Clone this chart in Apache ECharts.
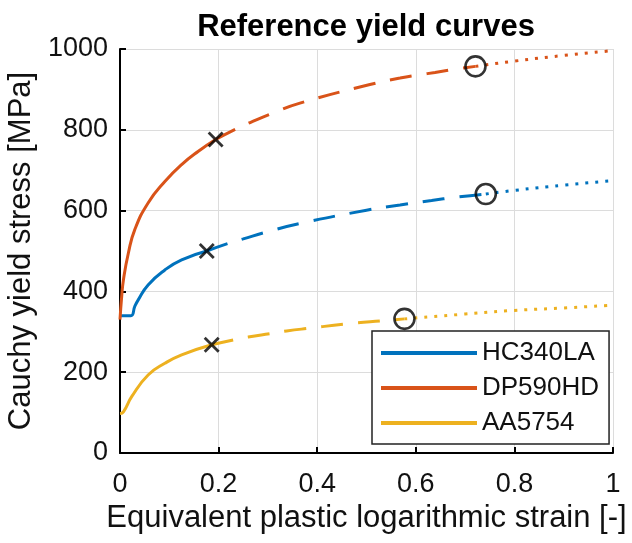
<!DOCTYPE html>
<html>
<head>
<meta charset="utf-8">
<script src="https://cdn.jsdelivr.net/npm/echarts@6/dist/echarts.min.js"></script>
<style>
html,body{margin:0;padding:0;background:#fff;}
#chart{width:632px;height:543px;}
</style>
</head>
<body>
<div id="chart"></div>
<script>
// ---- data ----
const materials = ['HC340LA', 'DP590HD', 'AA5754'];
const colors = ['#0072BD', '#D95319', '#EDB120'];
const xTicks = [0, 0.2, 0.4, 0.6, 0.8, 1];
const yTicks = [0, 200, 400, 600, 800, 1000];

// HC340LA
const hcSolidX = [0, 0.022, 0.030, 0.037, 0.057, 0.091, 0.125, 0.176];
const hcSolidY = [340, 340, 363, 379, 416, 453, 478, 500];
const hcDashX = [0.176, 0.220, 0.250, 0.297, 0.365, 0.500, 0.568, 0.632, 0.680, 0.742];
const hcDashY = [500, 519, 530, 547, 568, 601, 614, 625, 633, 641];
const hcDotX = [0.742, 0.8, 0.9, 1.0];
const hcDotY = [641, 650, 663, 674];

// DP590HD
const dpSolidX = [0, 0.0034, 0.007, 0.017, 0.030, 0.057, 0.091, 0.125, 0.159, 0.194];
const dpSolidY = [330, 387, 429, 495, 553, 619, 672, 714, 747, 776];
const dpDashX = [0.194, 0.237, 0.264, 0.311, 0.365, 0.507, 0.568, 0.608, 0.639, 0.686, 0.721];
const dpDashY = [776, 803, 818, 842, 866, 912, 928, 936, 942, 951, 957];
const dpDotX = [0.721, 0.8, 0.9, 1.0];
const dpDotY = [957, 970, 984, 996];

// AA5754
const aaSolidX = [0, 0.007, 0.024, 0.057, 0.091, 0.125, 0.186];
const aaSolidY = [98, 102, 140, 193, 222, 243, 268];
const aaDashX = [0.186, 0.230, 0.260, 0.308, 0.338, 0.385, 0.463, 0.541, 0.577];
const aaDashY = [268, 280, 287, 296, 302, 309, 320, 328, 332];
const aaDotX = [0.577, 0.7, 0.8, 0.9, 1.0];
const aaDotY = [332, 344, 353, 359, 366];

// markers: end of solid (x) and end of dashed (o)
const crossX = [0.176, 0.194, 0.186];
const crossY = [500, 776, 268];
const circleX = [0.742, 0.721, 0.577];
const circleY = [641, 957, 332];

// ---- build ----
const FONT = "'Liberation Sans', Arial, Helvetica, sans-serif";
const TXT = '#111';
function pairs(xs, ys) { return xs.map((x, i) => [x, ys[i]]); }

const segs = [
  [pairs(hcSolidX, hcSolidY), pairs(hcDashX, hcDashY), pairs(hcDotX, hcDotY)],
  [pairs(dpSolidX, dpSolidY), pairs(dpDashX, dpDashY), pairs(dpDotX, dpDotY)],
  [pairs(aaSolidX, aaSolidY), pairs(aaDashX, aaDashY), pairs(aaDotX, aaDotY)]
];

const series = [];
segs.forEach((s, i) => {
  const styles = ['solid', [22, 15], [3, 7]];
  s.forEach((d, k) => {
    series.push({
      type: 'line',
      name: k === 0 ? materials[i] : materials[i] + '_' + k,
      data: d,
      smooth: 0.5,
      symbol: 'none',
      showSymbol: false,
      silent: true,
      z: 3,
      color: colors[i],
      itemStyle: { color: colors[i] },
      lineStyle: { color: colors[i], width: 3, type: styles[k], cap: 'butt' },
      emphasis: { disabled: true }
    });
  });
});
series.push({
  type: 'scatter',
  name: 'cross',
  data: pairs(crossX, crossY),
  symbol: 'path://M0 0L10 10M10 0L0 10',
  symbolSize: 14,
  silent: true,
  z: 5,
  itemStyle: { color: 'transparent', borderColor: '#000', borderWidth: 2.8 },
  emphasis: { disabled: true }
});
series.push({
  type: 'scatter',
  name: 'circle',
  data: pairs(circleX, circleY),
  symbol: 'circle',
  symbolSize: 20,
  silent: true,
  z: 5,
  itemStyle: { color: 'transparent', borderColor: '#000', borderWidth: 2.6 },
  emphasis: { disabled: true }
});

const chart = echarts.init(document.getElementById('chart'), null, { renderer: 'canvas' });
chart.setOption({
  animation: false,
  backgroundColor: '#fff',
  textStyle: { fontFamily: FONT },
  title: {
    text: 'Reference yield curves',
    left: 366,
    textAlign: 'center',
    top: 12,
    padding: 0,
    textStyle: { fontFamily: FONT, fontSize: 31, fontWeight: 'bold', color: '#000' }
  },
  grid: { left: 120, right: 19, top: 49, bottom: 90, containLabel: false, outerBoundsMode: 'none' },
  legend: {
    data: materials,
    orient: 'vertical',
    left: 372,
    top: 331,
    padding: [9, 10, 8, 9],
    icon: 'rect',
    itemWidth: 96,
    itemHeight: 4,
    itemGap: 9,
    backgroundColor: '#fff',
    borderColor: '#222',
    borderWidth: 1.5,
    borderRadius: 0,
    selectedMode: false,
    textStyle: { fontFamily: FONT, fontSize: 26, lineHeight: 26, color: TXT }
  },
  xAxis: {
    type: 'value',
    min: xTicks[0],
    max: xTicks[xTicks.length - 1],
    interval: xTicks[1] - xTicks[0],
    name: 'Equivalent plastic logarithmic strain [-]',
    nameLocation: 'middle',
    nameGap: 49,
    nameTextStyle: { fontFamily: FONT, fontSize: 31, color: TXT },
    axisLine: { show: true, lineStyle: { color: '#000', width: 2 } },
    axisTick: { show: true, inside: true, length: 6, lineStyle: { color: '#000', width: 2 } },
    axisLabel: { margin: 18, fontFamily: FONT, fontSize: 27, color: TXT,
      formatter: v => String(v) },
    splitLine: { show: true, lineStyle: { color: '#dcdcdc', width: 1 } }
  },
  yAxis: {
    type: 'value',
    min: yTicks[0],
    max: yTicks[yTicks.length - 1],
    interval: yTicks[1] - yTicks[0],
    name: 'Cauchy yield stress [MPa]',
    nameLocation: 'middle',
    nameGap: 79,
    nameTextStyle: { fontFamily: FONT, fontSize: 31, color: TXT },
    axisLine: { show: true, lineStyle: { color: '#000', width: 2 } },
    axisTick: { show: true, inside: true, length: 6, lineStyle: { color: '#000', width: 2 } },
    axisLabel: { margin: 12, fontFamily: FONT, fontSize: 27, color: TXT,
      formatter: v => String(v) },
    splitLine: { show: true, lineStyle: { color: '#dcdcdc', width: 1 } }
  },
  series: series
});
</script>
</body>
</html>
